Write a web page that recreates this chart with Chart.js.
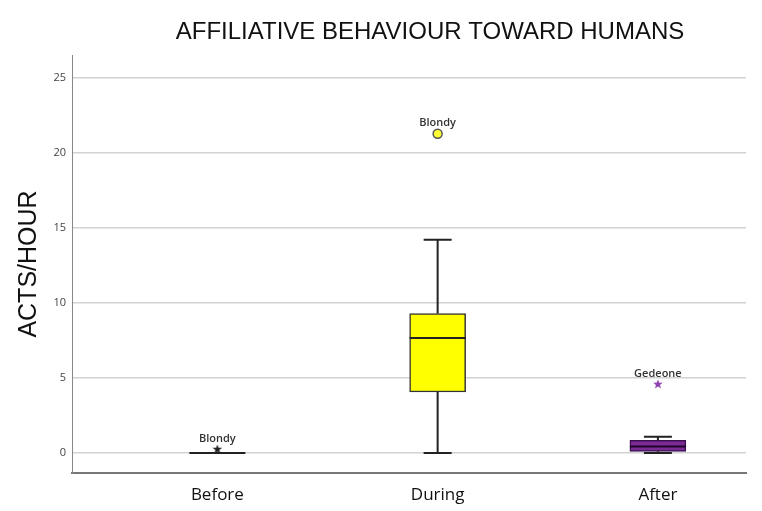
<!DOCTYPE html>
<html>
<head>
<meta charset="utf-8">
<script src="https://cdn.jsdelivr.net/npm/chart.js@4"></script>
<style>
  html, body { margin: 0; padding: 0; background: #fff; }
  #wrap { width: 762px; height: 511px; }
</style>
</head>
<body>
<div id="wrap"><canvas id="boxChart"></canvas></div>
<script>
// values
const categories = ['Before', 'During', 'After'];
const whiskerLow = [0, 0, 0];
const quartile1 = [0, 4.06, 0.11];
const medians = [0, 7.65, 0.44];
const quartile3 = [0, 9.29, 0.84];
const whiskerHigh = [0, 14.2, 1.08];
const boxColors = ['#ffff00', '#ffff00', '#7b2a95'];
const boxBorders = ['#222222', '#333333', '#3c1050'];

// outliers: category index, value, name
const outlierCat = [1, 0, 2];
const outlierVal = [21.26, 0.27, 4.6];
const outlierName = ['Blondy', 'Blondy', 'Gedeone'];

const yTicks = [0, 5, 10, 15, 20, 25];

function starImage(color) {
  const c = document.createElement('canvas');
  c.width = 10; c.height = 10;
  const g = c.getContext('2d');
  g.fillStyle = color;
  g.beginPath();
  for (let i = 0; i < 10; i++) {
    const r = i % 2 === 0 ? 5 : 2.1;
    const a = -Math.PI / 2 + i * Math.PI / 5;
    g.lineTo(5 + r * Math.cos(a), 5.4 + r * Math.sin(a));
  }
  g.closePath();
  g.fill();
  return c;
}

// whiskers, caps, medians and outlier names
const boxExtras = {
  id: 'boxExtras',
  afterDatasetsDraw(chart) {
    const ctx = chart.ctx;
    const x = chart.scales.x, y = chart.scales.y;
    ctx.save();
    categories.forEach((c, i) => {
      const cx = x.getPixelForValue(i + 1);
      ctx.strokeStyle = '#222';
      ctx.lineWidth = 2;
      ctx.beginPath();
      ctx.moveTo(cx, y.getPixelForValue(quartile3[i]));
      ctx.lineTo(cx, y.getPixelForValue(whiskerHigh[i]));
      ctx.moveTo(cx, y.getPixelForValue(quartile1[i]));
      ctx.lineTo(cx, y.getPixelForValue(whiskerLow[i]));
      ctx.moveTo(cx - 14, y.getPixelForValue(whiskerHigh[i]));
      ctx.lineTo(cx + 14, y.getPixelForValue(whiskerHigh[i]));
      ctx.moveTo(cx - 14, y.getPixelForValue(whiskerLow[i]));
      ctx.lineTo(cx + 14, y.getPixelForValue(whiskerLow[i]));
      ctx.stroke();
      ctx.lineWidth = 2;
      ctx.strokeStyle = i === 2 ? '#1e0528' : '#222';
      ctx.beginPath();
      ctx.moveTo(cx - 28, y.getPixelForValue(medians[i]));
      ctx.lineTo(cx + 28, y.getPixelForValue(medians[i]));
      ctx.stroke();
    });
    ctx.fillStyle = '#333';
    ctx.font = '600 11px "Open Sans", sans-serif';
    ctx.textAlign = 'center';
    ctx.textBaseline = 'bottom';
    outlierVal.forEach((v, k) => {
      const px = x.getPixelForValue(outlierCat[k] + 1);
      ctx.fillText(outlierName[k], px, y.getPixelForValue(v) - 5);
    });
    ctx.restore();
  }
};

const titleDraw = {
  id: 'titleDraw',
  afterDraw(chart) {
    const ctx = chart.ctx;
    ctx.save();
    ctx.fillStyle = '#111';
    ctx.font = '24px "Liberation Sans", Arial, sans-serif';
    ctx.textAlign = 'center';
    ctx.textBaseline = 'middle';
    ctx.fillText('AFFILIATIVE BEHAVIOUR TOWARD HUMANS', 430, 32);
    ctx.restore();
  }
};

new Chart(document.getElementById('boxChart').getContext('2d'), {
  type: 'bar',
  data: {
    datasets: [
      {
        type: 'bar',
        data: categories.map((c, i) => ({ x: i + 1, y: [quartile1[i], quartile3[i]] })),
        backgroundColor: boxColors,
        borderColor: boxBorders,
        borderWidth: 1.5,
        borderSkipped: false,
        barThickness: 56,
        order: 2
      },
      {
        type: 'scatter',
        data: outlierVal.map((v, k) => ({ x: outlierCat[k] + 1, y: v })),
        pointStyle: ['circle', starImage('#222'), starImage('#8e3fb0')],
        pointRadius: 4.5,
        backgroundColor: '#ffff33',
        borderColor: '#555',
        borderWidth: 1.5,
        order: 1
      }
    ]
  },
  options: {
    responsive: true,
    maintainAspectRatio: false,
    animation: false,
    layout: { padding: { top: 55, right: 16, left: 14, bottom: 0 } },
    plugins: { legend: { display: false }, tooltip: { enabled: false } },
    scales: {
      x: {
        type: 'linear',
        offset: false,
        min: 0.34,
        max: 3.4,
        afterBuildTicks: s => { s.ticks = categories.map((c, i) => ({ value: i + 1 })); },
        afterFit: s => { s.height = 38; },
        ticks: {
          callback: v => categories[v - 1],
          color: '#111',
          font: { family: '"Open Sans", sans-serif', size: 17 },
          padding: 4
        },
        grid: { display: false, offset: false },
        border: { display: true, color: '#777', width: 2 }
      },
      y: {
        min: -1.33,
        max: 26.5,
        afterBuildTicks: s => { s.ticks = yTicks.map(v => ({ value: v })); },
        afterFit: s => { s.width = 58; },
        ticks: {
          color: '#444',
          font: { family: '"Open Sans", sans-serif', size: 11 },
          padding: 6
        },
        grid: { color: '#d2d2d2', lineWidth: 1.5, drawTicks: false },
        border: { display: true, color: '#888', width: 1 },
        title: {
          display: true,
          text: 'ACTS/HOUR',
          color: '#111',
          font: { family: '"Liberation Sans", Arial, sans-serif', size: 25 },
          padding: { top: 0, bottom: 12 }
        }
      }
    }
  },
  plugins: [boxExtras, titleDraw]
});
</script>
</body>
</html>
